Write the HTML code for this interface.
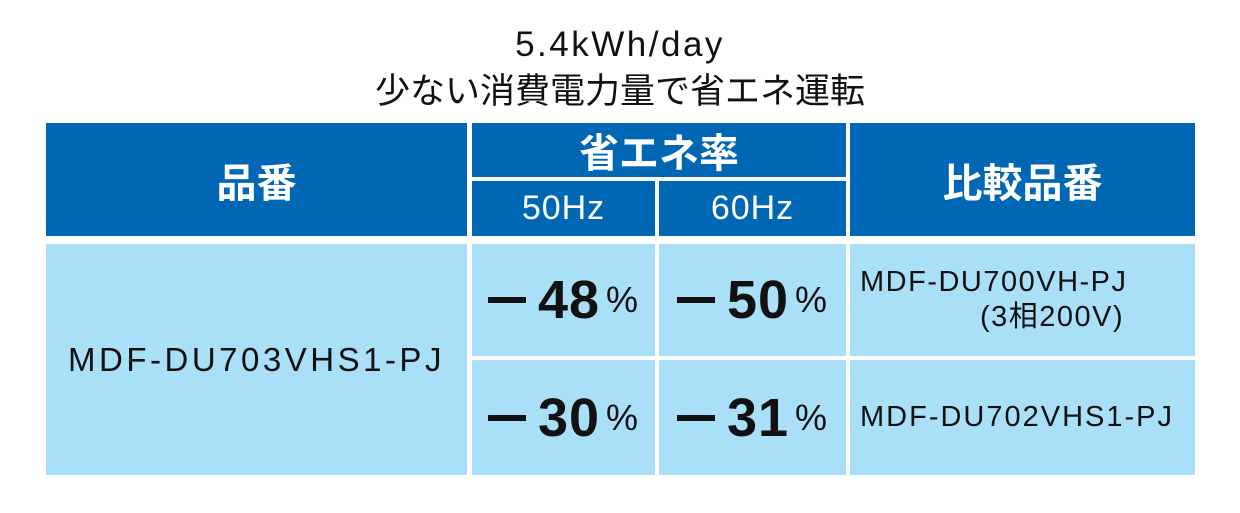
<!DOCTYPE html>
<html><head><meta charset="utf-8"><style>
body{margin:0;width:1240px;height:513px;background:#fff;position:relative;font-family:"Liberation Sans","Noto Sans CJK JP",sans-serif;overflow:hidden}
.a{position:absolute;box-sizing:border-box;display:flex;align-items:center;justify-content:center}
.h{background:#0067b5;color:#fff}
.b{background:#a9e0f8;color:#111}
.t{position:absolute;left:0;width:1240px;text-align:center;color:#111;line-height:1}
.n{font-size:54px;font-weight:bold;letter-spacing:1px}
.n small{font-size:36px;font-weight:normal;margin-left:6px}
.m{display:inline-block;width:38px;height:6px;background:#111;margin-right:12px;vertical-align:middle}
</style></head><body>
<div class="t" style="top:27px;font-size:35px;letter-spacing:2.5px">5.4kWh/day</div>
<div class="t" style="top:74px;font-size:35px">少ない消費電力量で省エネ運転</div>
<div class="a h" style="left:46px;top:123px;width:421px;height:113px;font-size:40px;font-weight:bold">品番</div>
<div class="a h" style="left:472px;top:123px;width:374px;height:54px;font-size:40px;font-weight:bold">省エネ率</div>
<div class="a h" style="left:472px;top:181px;width:183px;height:55px;font-size:34px;letter-spacing:1px">50Hz</div>
<div class="a h" style="left:659px;top:181px;width:187px;height:55px;font-size:34px;letter-spacing:1px">60Hz</div>
<div class="a h" style="left:850px;top:123px;width:345px;height:113px;font-size:40px;font-weight:bold">比較品番</div>
<div class="a b" style="left:46px;top:244px;width:421px;height:231px;font-size:33px;letter-spacing:3.5px">MDF-DU703VHS1-PJ</div>
<div class="a b n" style="left:472px;top:244px;width:183px;height:112px"><span class="m"></span>48<small>%</small></div>
<div class="a b n" style="left:659px;top:244px;width:187px;height:112px"><span class="m"></span>50<small>%</small></div>
<div class="a b" style="left:850px;top:244px;width:345px;height:112px;font-size:29px;letter-spacing:1.5px;flex-direction:column;align-items:flex-start;padding-left:10px;line-height:35px"><div>MDF-DU700VH-PJ</div><div style="padding-left:120px">(3相200V)</div></div>
<div class="a b n" style="left:472px;top:360px;width:183px;height:115px"><span class="m"></span>30<small>%</small></div>
<div class="a b n" style="left:659px;top:360px;width:187px;height:115px"><span class="m"></span>31<small>%</small></div>
<div class="a b" style="left:850px;top:360px;width:345px;height:115px;font-size:29px;letter-spacing:2px;justify-content:flex-start;padding-left:10px">MDF-DU702VHS1-PJ</div>
</body></html>
